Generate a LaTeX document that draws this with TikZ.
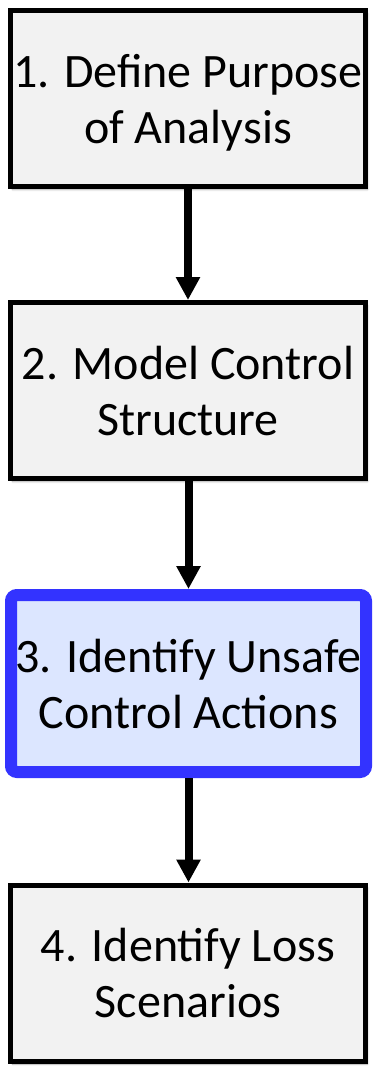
\documentclass[tikz,border=0pt]{standalone}
\usepackage{fontspec}
\setmainfont{Carlito}
\usetikzlibrary{arrows.meta,shadows.blur}

\definecolor{boxfill}{RGB}{242,242,242}
\definecolor{activefill}{RGB}{220,230,255}
\definecolor{activeline}{RGB}{51,51,255}

\tikzset{
  stepbox/.style={draw=black, line width=5pt, fill=boxfill,
    minimum width=355pt, minimum height=176pt, inner sep=0pt,
    align=center, font=\fontsize{48}{56}\selectfont, text depth=0pt,
    blur shadow={shadow xshift=2pt, shadow yshift=-3pt,
      shadow blur steps=6, shadow opacity=35}},
  activebox/.style={stepbox, draw=activeline, fill=activefill,
    line width=12pt, rounded corners=6pt, minimum height=177pt},
  flow/.style={line width=8pt, -{Triangle[width=23pt,length=23pt]}}
}

\begin{document}
\begin{tikzpicture}[x=1pt, y=-1pt]
  \useasboundingbox (0,0) rectangle (373,1067);

  \node[stepbox]   (purpose)  at (188,98.5)  {1. Define Purpose\\of Analysis};
  \node[stepbox]   (model)    at (188,390.5) {2. Model Control\\Structure};
  \node[activebox] (uca)      at (188.5,683.5) {3. Identify Unsafe\\Control Actions};
  \node[stepbox]   (scenario) at (188,973)   {4. Identify Loss\\Scenarios};

  \draw[flow] (purpose.south) -- (model.north);
  \draw[flow] (model.south -| uca.north) -- (uca.north);
  \draw[flow] (uca.south) -- (scenario.north -| uca.south);
\end{tikzpicture}
\end{document}
